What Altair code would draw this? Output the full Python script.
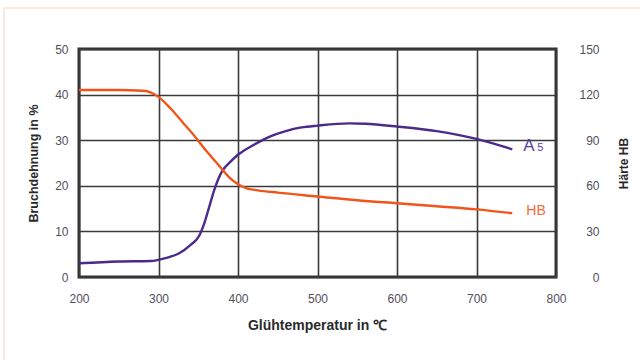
import altair as alt
import pandas as pd

# Bruchdehnung A5 (%) over annealing temperature
a5_temp = [200, 250, 290, 310, 326, 340, 351, 358, 364, 370, 380, 390, 400,
           420, 440, 460, 480, 500, 540, 560, 600, 650, 700, 745]
a5_val = [3.0, 3.4, 3.5, 4.2, 5.2, 7.0, 9.0, 12.0, 15.5, 19.0, 23.2, 25.2, 26.8,
          29.0, 30.8, 32.0, 32.8, 33.2, 33.7, 33.6, 33.0, 32.0, 30.3, 28.0]

# Härte HB over annealing temperature
hb_temp = [200, 250, 280, 290, 300, 315, 330, 345, 360, 375, 390, 400, 410,
           425, 450, 500, 550, 600, 650, 700, 745]
hb_val = [123, 123, 122.5, 121.5, 118.5, 111, 102, 93, 83, 74, 65, 61, 58.5,
          57, 55.5, 53, 50.5, 48.5, 46.5, 44.5, 42]

x_ticks = [200, 300, 400, 500, 600, 700, 800]
left_ticks = [0, 10, 20, 30, 40, 50]
right_ticks = [0, 30, 60, 90, 120, 150]

FONT = "Liberation Sans"
PURPLE = "#4b2a8c"
ORANGE = "#f0561c"
GRID = "#3a3a3a"
LABEL = "#50505e"

a5_df = pd.DataFrame({"temp": a5_temp, "val": a5_val})
hb_df = pd.DataFrame({"temp": hb_temp, "val": hb_val})
a5_end = a5_df.tail(1)
hb_end = hb_df.tail(1)

x_enc = alt.X(
    "temp:Q",
    scale=alt.Scale(domain=[200, 800], nice=False),
    axis=alt.Axis(
        values=x_ticks, grid=True, gridColor=GRID, gridWidth=1.6,
        domain=False, ticks=False, labelPadding=16, labelFont=FONT,
        labelFontSize=12, labelColor=LABEL, labelFlush=False,
        title="Glühtemperatur in ℃", titleFont=FONT, titleFontSize=14,
        titleFontWeight="bold", titleColor="#2a2a2a",
        titleX=238, titleY=48, titleBaseline="middle",
    ),
)

frame = alt.Chart(pd.DataFrame({"k": [0]})).mark_rect(
    fill=None, stroke="#f4e2d6", strokeWidth=1.5
).encode(
    x=alt.value(-75), x2=alt.value(570),
    y=alt.value(-41), y2=alt.value(320),
)

a5_line = alt.Chart(a5_df).mark_line(
    color=PURPLE, strokeWidth=2.4, interpolate="monotone"
).encode(
    x=x_enc,
    y=alt.Y(
        "val:Q",
        scale=alt.Scale(domain=[0, 50], nice=False),
        axis=alt.Axis(
            orient="left", values=left_ticks, grid=True, gridColor=GRID,
            gridWidth=1.6, domain=False, ticks=False, labelPadding=11,
            labelFont=FONT, labelFontSize=12, labelColor=LABEL,
            labelFlush=False,
            title="Bruchdehnung in %", titleFont=FONT, titleFontSize=12.5,
            titleFontWeight="bold", titleColor="#2a2a2a",
            titleAngle=270, titleX=-46, titleY=114,
            titleAlign="center", titleBaseline="middle",
        ),
    ),
)

a5_label_a = alt.Chart(a5_end).mark_text(
    text="A", align="left", baseline="middle", dx=11, dy=-3,
    font=FONT, fontSize=17, color="#5a3c9e",
).encode(x="temp:Q", y="val:Q")

a5_label_5 = alt.Chart(a5_end).mark_text(
    text="5", align="left", baseline="middle", dx=25, dy=-1,
    font=FONT, fontSize=11, color="#5a3c9e",
).encode(x="temp:Q", y="val:Q")

hb_line = alt.Chart(hb_df).mark_line(
    color=ORANGE, strokeWidth=2.4, interpolate="monotone"
).encode(
    x="temp:Q",
    y=alt.Y(
        "val:Q",
        scale=alt.Scale(domain=[0, 150], nice=False),
        axis=alt.Axis(
            orient="right", values=right_ticks, grid=False, domain=False,
            ticks=False, labelPadding=43, labelAlign="right",
            labelFont=FONT, labelFontSize=12, labelColor=LABEL,
            labelFlush=False,
            title="Härte HB", titleFont=FONT, titleFontSize=12,
            titleFontWeight="bold", titleColor="#2a2a2a",
            titleAngle=270, titleX=67, titleY=114,
            titleAlign="center", titleBaseline="middle",
        ),
    ),
)

hb_label = alt.Chart(hb_end).mark_text(
    text="HB", align="left", baseline="middle", dx=14, dy=-2,
    font=FONT, fontSize=14, color="#f26a3a",
).encode(x="temp:Q", y="val:Q")

left = alt.layer(frame, a5_line, a5_label_a, a5_label_5)
right = alt.layer(hb_line, hb_label)

chart = alt.layer(left, right).resolve_scale(y="independent").properties(
    width=477,
    height=228,
    autosize=alt.AutoSizeParams(type="none"),
    padding={"left": 79, "top": 49, "right": 84, "bottom": 83},
    background="white",
).configure_view(
    stroke="#333333", strokeWidth=3
)

chart.save("out.html", embed_options={"renderer": "svg", "actions": False})
